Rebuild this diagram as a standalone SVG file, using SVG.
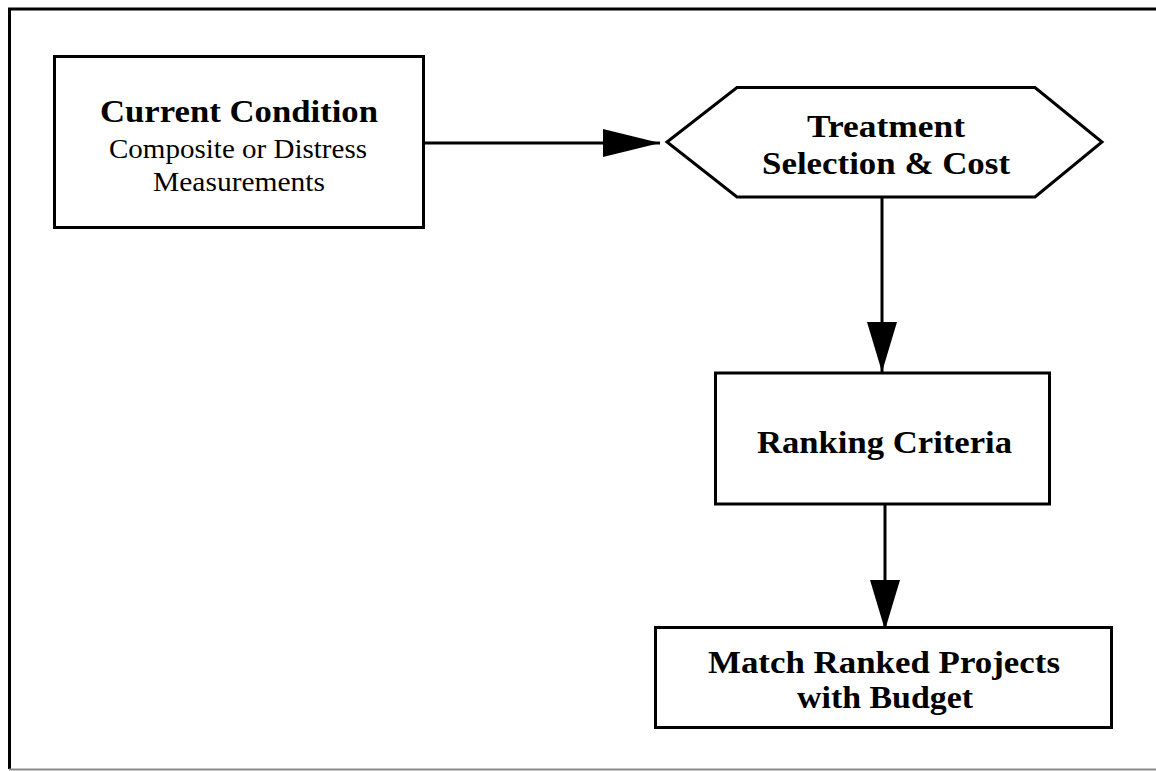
<svg xmlns="http://www.w3.org/2000/svg" width="1156" height="771" viewBox="0 0 1156 771">
  <style>
    .frame { fill: none; stroke: #000; stroke-width: 3; }
    .node { fill: #fff; stroke: #000; stroke-width: 3; stroke-linejoin: miter; }
    .edge { fill: none; stroke: #000; stroke-width: 3; }
    .title { font-family: "Liberation Serif", "Times New Roman", serif; font-weight: bold; font-size: 31px; fill: #000; text-anchor: middle; }
    .sub { font-family: "Liberation Serif", "Times New Roman", serif; font-size: 27px; fill: #000; text-anchor: middle; }
  </style>
  <defs>
    <marker id="head-long" markerUnits="userSpaceOnUse" viewBox="0 0 57 28" markerWidth="57" markerHeight="28" refX="57" refY="14" orient="auto">
      <path d="M0,0 L57,14 L0,28 Z" fill="#000"/>
    </marker>
    <marker id="head" markerUnits="userSpaceOnUse" viewBox="0 0 50 30" markerWidth="50" markerHeight="30" refX="50" refY="15" orient="auto">
      <path d="M0,0 L50,15 L0,30 Z" fill="#000"/>
    </marker>
  </defs>

  <rect width="1156" height="771" fill="#fff"/>

  <!-- outer frame: open on the right, faint along the bottom -->
  <path class="frame" d="M1156,9 L9.5,9 L9.5,769"/>
  <line x1="9" y1="769.5" x2="1156" y2="769.5" stroke="#8a8a8a" stroke-width="2"/>

  <g id="connectors">
    <line class="edge" x1="424" y1="143" x2="660" y2="143" marker-end="url(#head-long)"/>
    <line class="edge" x1="882" y1="197" x2="882" y2="372" marker-end="url(#head)"/>
    <line class="edge" x1="885" y1="504" x2="885" y2="630" marker-end="url(#head)"/>
  </g>

  <g id="current-condition">
    <rect class="node" x="54.5" y="56.5" width="369" height="171"/>
    <text class="title" x="239" y="122" textLength="278" lengthAdjust="spacingAndGlyphs">Current Condition</text>
    <text class="sub" x="238" y="158" textLength="258" lengthAdjust="spacingAndGlyphs">Composite or Distress</text>
    <text class="sub" x="239" y="191" textLength="172" lengthAdjust="spacingAndGlyphs">Measurements</text>
  </g>

  <g id="treatment-selection">
    <polygon class="node" points="667,142 737,87.5 1035,87.5 1102,142 1035,197 737,197"/>
    <text class="title" x="886" y="137" textLength="158" lengthAdjust="spacingAndGlyphs">Treatment</text>
    <text class="title" x="886" y="174" textLength="248" lengthAdjust="spacingAndGlyphs">Selection &amp; Cost</text>
  </g>

  <g id="ranking-criteria">
    <rect class="node" x="715.5" y="373" width="334" height="131"/>
    <text class="title" x="884.5" y="453" textLength="255" lengthAdjust="spacingAndGlyphs">Ranking Criteria</text>
  </g>

  <g id="match-budget">
    <rect class="node" x="655.5" y="627.5" width="456" height="100"/>
    <text class="title" x="884" y="673" textLength="352" lengthAdjust="spacingAndGlyphs">Match Ranked Projects</text>
    <text class="title" x="885" y="708" textLength="176" lengthAdjust="spacingAndGlyphs">with Budget</text>
  </g>
</svg>
